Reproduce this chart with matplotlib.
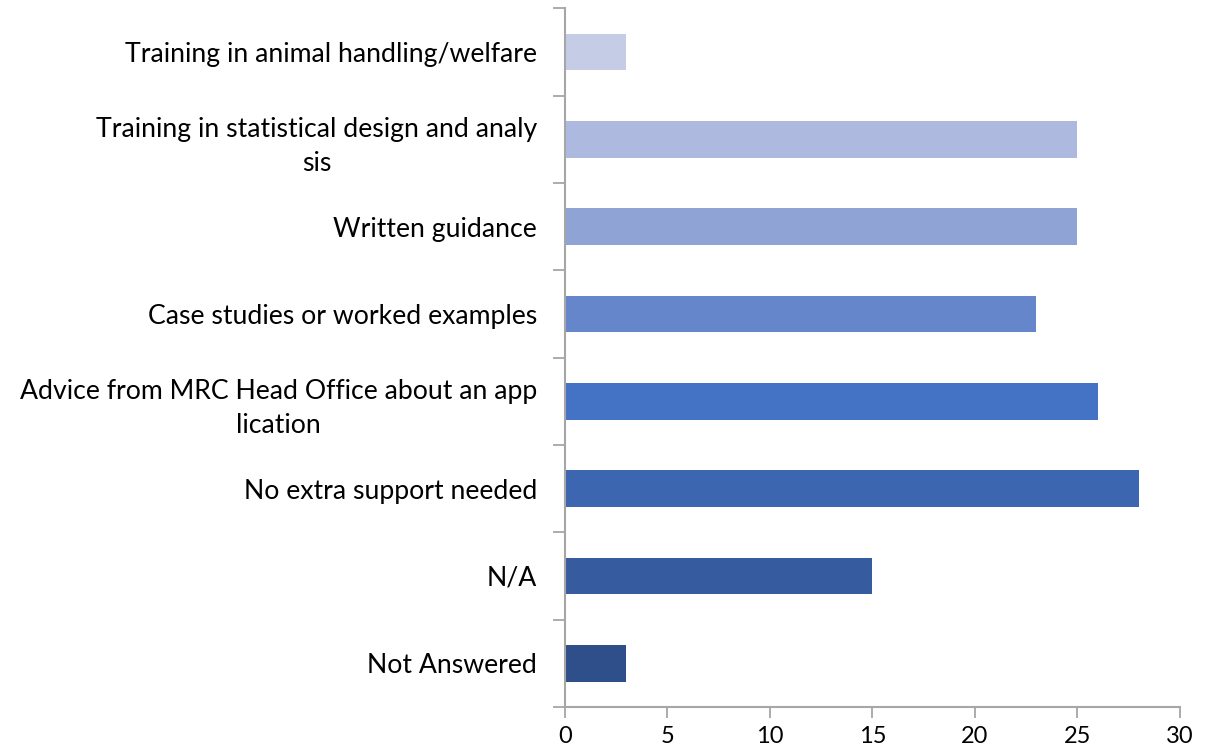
import numpy as np
import matplotlib.pyplot as plt
from matplotlib.ticker import FixedLocator

categories = ['Training in animal handling/welfare',
              'Training in statistical design and analy\nsis',
              'Written guidance',
              'Case studies or worked examples',
              'Advice from MRC Head Office about an app\nlication',
              'No extra support needed',
              'N/A',
              'Not Answered']
values = [3, 25, 25, 23, 26, 28, 15, 3]
colors = ['#C5CCE6', '#ADB9DF', '#8FA4D5', '#6586CA',
          '#4472C4', '#3D66B0', '#365B9E', '#2E4F8A']

plt.rcParams['font.family'] = ['Lato', 'DejaVu Sans']

fig = plt.figure(figsize=(12.15, 7.48), dpi=100)
ax = fig.add_axes([0.465, 0.055, 0.506, 0.934])

y = np.arange(len(categories))
ax.barh(y, values, height=0.42, color=colors)
ax.set_ylim(len(categories) - 0.5, -0.5)
ax.set_xlim(0, 30)
ax.set_xticks(np.arange(0, 31, 5))

ax.set_yticks(y)
ax.set_yticklabels(categories, fontsize=19.2)
for lab in ax.get_yticklabels():
    lab.set_multialignment('center')
    lab.set_linespacing(1.45)
ax.yaxis.set_minor_locator(FixedLocator(np.arange(-0.5, len(categories), 1)))
ax.tick_params(axis='y', which='major', length=0, pad=20)
ax.tick_params(axis='y', which='minor', length=9, width=1.3, color='#A6A6A6')
ax.tick_params(axis='x', length=8, width=1.3, color='#A6A6A6', labelsize=17, pad=6)

for s in ['top', 'right']:
    ax.spines[s].set_visible(False)
for s in ['left', 'bottom']:
    ax.spines[s].set_color('#A6A6A6')
    ax.spines[s].set_linewidth(1.5)

fig.savefig('out.png', dpi=100)
